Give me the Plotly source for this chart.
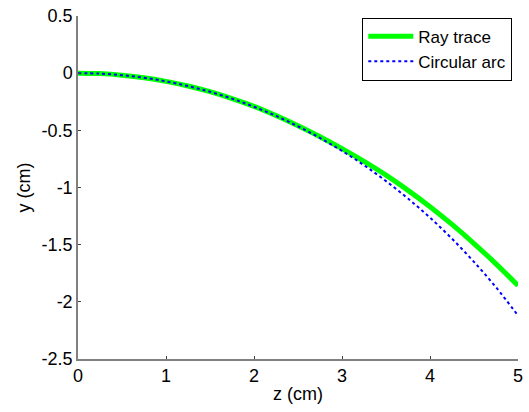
import plotly.graph_objects as go

z_cm = [0, 0.25, 0.5, 0.75, 1.0, 1.25, 1.5, 1.75, 2.0, 2.25, 2.5, 2.75,
        3.0, 3.25, 3.5, 3.75, 4.0, 4.25, 4.5, 4.75, 5.0]
ray_trace = [0, -0.004, -0.018, -0.040, -0.072, -0.112, -0.162, -0.222, -0.290,
             -0.371, -0.460, -0.556, -0.660, -0.772, -0.892, -1.025, -1.168,
             -1.323, -1.490, -1.668, -1.858]
circular_arc = [0, -0.004, -0.018, -0.040, -0.072, -0.113, -0.163, -0.223, -0.294,
                -0.374, -0.465, -0.567, -0.680, -0.805, -0.944, -1.097, -1.264,
                -1.448, -1.651, -1.873, -2.12]
x_ticks = [0, 1, 2, 3, 4, 5]
y_ticks = [0.5, 0, -0.5, -1, -1.5, -2, -2.5]
y_tick_text = ["0.5", "0", "-0.5", "-1", "-1.5", "-2", "-2.5"]

fig = go.Figure()
fig.add_trace(go.Scatter(x=z_cm, y=ray_trace, mode="lines", name="Ray trace",
                         line=dict(color="#00FF00", width=5, shape="spline")))
fig.add_trace(go.Scatter(x=z_cm, y=circular_arc, mode="lines", name="Circular arc",
                         line=dict(color="#0000FF", width=2, dash="dot", shape="spline")))

font = dict(family="Liberation Sans, Arial, sans-serif", size=18, color="black")
legend_font = dict(family="Liberation Sans, Arial, sans-serif", size=17, color="black")
fig.update_layout(
    width=529, height=412,
    margin=dict(l=78, r=6, t=12, b=53),
    paper_bgcolor="white", plot_bgcolor="white",
    font=font,
    showlegend=True,
    legend=dict(x=0.987, y=0.995, xanchor="right", yanchor="top",
                bgcolor="white", bordercolor="black", borderwidth=1,
                font=legend_font, itemwidth=45, tracegroupgap=0),
    xaxis=dict(range=[0, 5], tickvals=x_ticks, ticks="inside", ticklen=3,
               tickcolor="#404040", showline=True, linecolor="#808080", linewidth=1.5,
               showgrid=False, zeroline=False, mirror=False, tickfont=font,
               title=dict(text="z (cm)", font=font, standoff=2)),
    yaxis=dict(range=[-2.5, 0.5], tickvals=y_ticks, ticktext=y_tick_text,
               ticks="inside", ticklen=3, tickcolor="#404040",
               showline=True, linecolor="#808080", linewidth=1.5,
               showgrid=False, zeroline=False, mirror=False, tickfont=font,
               title=dict(text="y (cm)", font=font, standoff=6)),
)
fig.write_html("out.html")
